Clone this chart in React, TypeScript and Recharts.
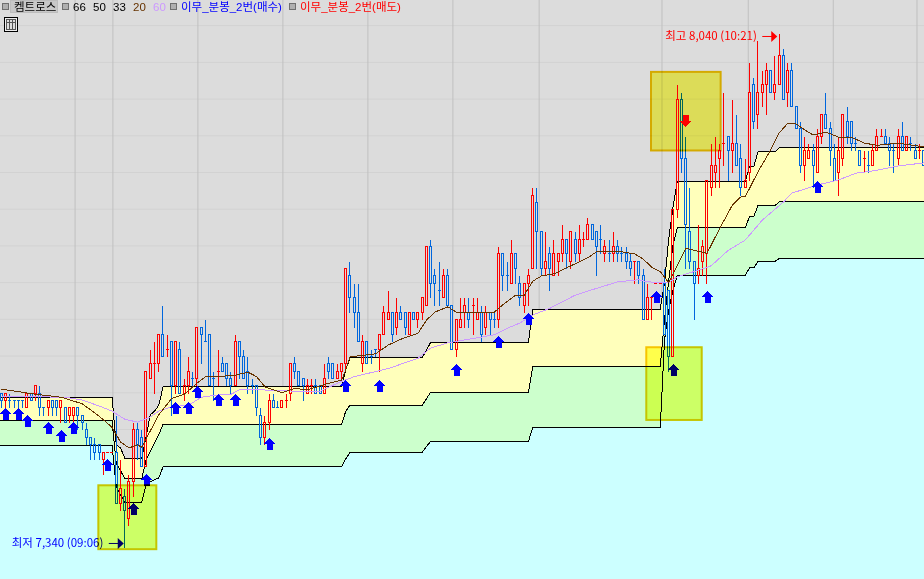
import { Area, Bar, CartesianGrid, ComposedChart, Line, ReferenceArea, ReferenceDot, Scatter, XAxis, YAxis } from "recharts";

const opens = [
  7550,7540,7540,7540,7540,7540,7530,7550,7550,7550,
  7530,7530,7540,7540,7530,7530,7520,7520,7530,7520,
  7500,7490,7480,7480,7460,7470,7470,7470,7400,7410,
  7380,7430,7500,7490,7450,7570,7590,7590,7630,7610,
  7620,7560,7610,7550,7560,7570,7570,7640,7620,7630,
  7570,7580,7590,7590,7570,7560,7620,7600,7580,7560,
  7560,7520,7490,7510,7540,7530,7530,7540,7550,7590,
  7580,7570,7550,7560,7560,7560,7550,7590,7590,7570,
  7580,7590,7710,7680,7660,7590,7620,7600,7610,7610,
  7630,7650,7660,7640,7660,7660,7630,7660,7650,7660,
  7670,7750,7710,7690,7680,7710,7670,7610,7640,7660,
  7660,7670,7650,7660,7640,7660,7650,7650,7740,7710,
  7700,7740,7700,7670,7700,7720,7810,7770,7720,7740,
  7710,7730,7740,7760,7730,7760,7740,7760,7760,7780,
  7770,7760,7740,7740,7740,7750,7740,7740,7730,7730,
  7730,7710,7650,7680,7700,7700,7700,7690,7600,7800,
  7950,7870,7770,7730,7710,7730,7740,7830,7850,7870,
  7890,7900,7880,7890,7870,7830,7850,7970,7930,7960,
  7970,7990,7960,7970,8010,7960,7990,7940,7910,7860,
  7870,7880,7850,7900,7930,7910,7870,7850,7870,7920,
  7920,7890,7880,7870,7860,7860,7880,7900,7900,7890,
  7880,7870,7900,7880,7890,7880,7880,7880,
];
const highs = [
  7550,7550,7550,7540,7540,7540,7550,7550,7560,7560,
  7530,7540,7540,7540,7540,7530,7530,7530,7530,7520,
  7510,7490,7490,7480,7470,7470,7470,7520,7460,7420,
  7440,7510,7510,7500,7580,7610,7620,7630,7670,7630,
  7620,7620,7620,7570,7600,7580,7640,7640,7650,7630,
  7580,7610,7600,7590,7580,7630,7620,7610,7600,7570,
  7560,7530,7520,7550,7550,7540,7540,7550,7590,7600,
  7580,7570,7570,7570,7570,7560,7590,7600,7590,7590,
  7590,7720,7730,7700,7700,7630,7620,7610,7610,7630,
  7670,7690,7660,7680,7670,7660,7660,7660,7660,7680,
  7750,7760,7720,7730,7720,7720,7670,7650,7680,7680,
  7680,7680,7680,7670,7670,7660,7660,7750,7740,7730,
  7760,7740,7710,7700,7720,7830,7830,7770,7770,7750,
  7760,7740,7780,7760,7770,7770,7780,7770,7790,7780,
  7770,7780,7760,7760,7770,7760,7750,7750,7740,7730,
  7730,7720,7700,7680,7700,7700,7720,7690,7800,7970,
  7960,7900,7830,7730,7780,7760,7840,7890,7900,7890,
  7960,7900,7950,7930,7890,7870,8000,7980,8030,7990,
  8000,7990,8010,8040,8020,8000,8000,7940,7920,7900,
  7890,7890,7910,7930,7960,7920,7890,7900,7930,7940,
  7920,7900,7880,7880,7880,7890,7910,7910,7910,7900,
  7890,7910,7920,7900,7900,7890,7890,7880,
];
const lows = [
  7530,7530,7530,7530,7530,7530,7530,7540,7540,7520,
  7520,7520,7520,7520,7510,7510,7510,7510,7500,7500,
  7480,7460,7460,7460,7440,7470,7470,7400,7390,7340,
  7370,7410,7460,7450,7450,7570,7550,7580,7600,7600,
  7520,7550,7550,7540,7550,7560,7560,7590,7620,7560,
  7540,7560,7580,7560,7550,7560,7570,7570,7550,7550,
  7520,7480,7480,7500,7530,7530,7530,7530,7540,7570,
  7560,7540,7550,7550,7550,7550,7550,7570,7570,7570,
  7570,7580,7660,7640,7620,7580,7590,7590,7600,7580,
  7630,7650,7620,7630,7650,7630,7630,7650,7640,7650,
  7670,7680,7670,7670,7680,7670,7610,7600,7640,7640,
  7640,7630,7650,7620,7630,7630,7640,7640,7690,7690,
  7700,7700,7670,7660,7670,7720,7720,7710,7710,7690,
  7710,7710,7730,7720,7720,7730,7730,7750,7760,7760,
  7710,7740,7730,7730,7730,7730,7730,7720,7710,7700,
  7700,7650,7650,7650,7700,7700,7630,7580,7600,7790,
  7850,7720,7720,7650,7700,7710,7700,7820,7830,7830,
  7860,7840,7850,7860,7820,7830,7840,7910,7910,7940,
  7930,7960,7950,7970,7950,7940,7940,7910,7850,7840,
  7870,7830,7850,7890,7910,7860,7840,7820,7860,7890,
  7880,7880,7860,7850,7850,7860,7880,7900,7890,7860,
  7850,7860,7880,7880,7880,7870,7870,7860,
];
const closes = [
  7540,7550,7540,7540,7540,7540,7550,7540,7560,7530,
  7530,7540,7530,7530,7540,7510,7530,7530,7520,7510,
  7490,7480,7470,7470,7470,7470,7470,7400,7420,7390,
  7430,7500,7480,7450,7580,7590,7590,7630,7600,7610,
  7560,7620,7550,7560,7580,7570,7640,7630,7620,7560,
  7570,7580,7580,7570,7560,7620,7600,7570,7560,7560,
  7530,7490,7510,7540,7530,7530,7540,7540,7590,7580,
  7560,7560,7560,7560,7550,7550,7570,7580,7570,7580,
  7590,7720,7680,7660,7620,7620,7590,7600,7610,7630,
  7660,7660,7630,7660,7650,7640,7660,7650,7660,7680,
  7750,7700,7700,7690,7710,7670,7610,7650,7650,7670,
  7650,7670,7660,7630,7660,7650,7650,7740,7710,7710,
  7740,7720,7680,7700,7710,7820,7770,7720,7730,7720,
  7740,7740,7760,7740,7770,7740,7760,7760,7780,7760,
  7750,7760,7750,7740,7750,7740,7740,7730,7720,7730,
  7710,7650,7680,7680,7700,7700,7630,7600,7800,7950,
  7870,7780,7730,7700,7720,7750,7840,7860,7860,7880,
  7890,7880,7890,7860,7830,7840,7960,7920,7960,7970,
  7990,7960,7970,8010,7950,7990,7940,7910,7860,7880,
  7880,7860,7900,7930,7910,7880,7840,7880,7930,7900,
  7890,7890,7860,7870,7860,7880,7900,7900,7890,7880,
  7880,7900,7880,7900,7890,7870,7880,7860,
];
// open == close bars that were drawn red, the other ones are blue
const redDoji = [25, 26, 36, 39, 51, 67, 73, 111, 137, 149, 153, 154, 155, 170, 203, 207, 216];

const upperIdx = [-0.5, 26, 27, 28, 29, 33, 34, 35, 36, 37, 38, 80, 81, 82, 99, 100, 101, 124, 125, 155, 156, 157, 158, 159, 175, 176, 177, 178, 182, 183, 217.5];
const upperBand = [7544, 7544, 7479, 7475, 7461, 7461, 7490, 7520, 7525, 7533, 7558, 7558, 7581, 7598, 7598, 7608, 7619, 7619, 7664, 7664, 7700, 7760, 7803, 7838, 7838, 7858, 7858, 7878, 7878, 7884, 7884];
const midIdx = [-0.5, 26, 27, 28, 29, 33, 34, 36, 37, 38, 80, 81, 82, 99, 100, 101, 124, 125, 155, 156, 157, 158, 159, 175, 176, 177, 178, 182, 183, 217.5];
const midBand = [7512, 7512, 7454, 7444, 7433, 7433, 7458, 7482, 7493, 7507, 7507, 7525, 7533, 7533, 7542, 7551, 7551, 7586, 7586, 7650, 7704, 7751, 7775, 7775, 7790, 7790, 7805, 7805, 7810, 7810];
const lowerIdx = [-0.5, 26, 27, 28, 29, 33, 34, 35, 37, 38, 80, 81, 82, 99, 100, 101, 124, 125, 155, 156, 157, 158, 159, 175, 176, 177, 178, 182, 183, 217.5];
const lowerBand = [7478, 7478, 7422, 7411, 7401, 7401, 7424, 7429, 7434, 7449, 7449, 7460, 7469, 7469, 7477, 7484, 7484, 7503, 7503, 7622, 7663, 7690, 7710, 7710, 7720, 7720, 7729, 7729, 7733, 7733];

const ma20Idx = [0, 8, 14, 19, 23, 26, 28, 30, 32, 33, 35, 37, 40, 43, 46, 48, 51, 55, 58, 60, 62, 66, 69, 72, 77, 80, 81, 82, 88, 91, 94, 98, 100, 102, 105, 107, 116, 118, 121, 123, 125, 127, 130, 134, 138, 140, 146, 149, 151, 153, 155, 157, 159, 161, 163, 166, 169, 172, 174, 175, 178, 181, 183, 185, 187, 189, 191, 194, 197, 200, 203, 206, 211, 217];
const ma20 = [7555, 7548, 7544, 7535, 7518, 7503, 7483, 7475, 7479, 7476, 7498, 7520, 7542, 7548, 7563, 7572, 7572, 7574, 7578, 7572, 7558, 7550, 7556, 7554, 7563, 7567, 7581, 7599, 7603, 7615, 7623, 7631, 7649, 7660, 7667, 7660, 7660, 7670, 7683, 7683, 7702, 7709, 7712, 7723, 7734, 7742, 7742, 7739, 7732, 7721, 7715, 7700, 7723, 7747, 7744, 7740, 7774, 7806, 7817, 7817, 7851, 7881, 7904, 7917, 7916, 7908, 7901, 7905, 7898, 7898, 7890, 7887, 7890, 7885];
const ma60Idx = [0, 15, 19, 23, 26, 29, 32, 35, 37, 40, 44, 47, 51, 54, 56, 61, 70, 75, 79, 83, 91, 98, 101, 105, 110, 116, 119, 122, 125, 129, 135, 141, 145, 150, 152, 157, 159, 164, 167, 171, 175, 179, 184, 186, 192, 197, 201, 206, 211, 217];
const ma60 = [7545, 7544, 7540, 7532, 7525, 7514, 7510, 7517, 7525, 7531, 7533, 7544, 7547, 7548, 7554, 7554, 7552, 7552, 7563, 7572, 7583, 7597, 7611, 7618, 7623, 7629, 7638, 7645, 7656, 7665, 7683, 7694, 7701, 7704, 7701, 7700, 7708, 7717, 7723, 7744, 7758, 7785, 7810, 7822, 7833, 7840, 7849, 7853, 7859, 7863];

const buyIdx = [1, 4, 6, 11, 14, 17, 25, 31, 34, 41, 44, 46, 51, 55, 63, 81, 89, 107, 117, 124, 154, 158, 166, 192];
const buyPrice = [7529, 7529, 7520, 7510, 7499, 7510, 7460, 7400, 7439, 7538, 7538, 7559, 7549, 7549, 7489, 7568, 7568, 7589, 7628, 7659, 7689, 7589, 7689, 7838];
const sellIdx = [161];
const sellPrice = [7912];

const gridPrices = [7350, 7400, 7450, 7500, 7550, 7600, 7650, 7700, 7750, 7800, 7850, 7900, 7950, 8000, 8050];
const gridIdx = [17.3, 26.2, 46.2, 66.2, 86.2, 106.2, 126.5, 146.5, 155.4, 175.7, 195.7, 215.4];

const RED = "#ff0000";
const BLUE = "#0066dd";
const Y_MIN = 7296.4;
const Y_MAX = 8084.9;

const candles = opens.map((open, i) => ({
  i,
  open,
  close: closes[i],
  high: highs[i],
  low: lows[i],
  range: [lows[i], highs[i]],
}));

const toPoints = (idx: number[], vals: number[]) => idx.map((i, k) => ({ i, v: vals[k] }));

function Candle(props: any) {
  const { x, y, width, height, payload } = props;
  const { open, close, high, low, i } = payload;
  const isDoji = open === close;
  const up = isDoji ? redDoji.includes(i) : close > open;
  const color = up ? RED : BLUE;
  const cx = Math.floor(x + width / 2) + 0.5;
  const perWon = high > low ? height / (high - low) : 0;
  const yOf = (v: number) => Math.round(y + (high - v) * perWon) + 0.5;
  const top = yOf(Math.max(open, close));
  const bottom = yOf(Math.min(open, close));
  if (isDoji) {
    return (
      <g shapeRendering="crispEdges" stroke={color} strokeWidth={1}>
        <line x1={cx} x2={cx} y1={yOf(high)} y2={yOf(low)} />
        <line x1={cx - 1.5} x2={cx + 1.5} y1={top} y2={top} />
      </g>
    );
  }
  return (
    <g shapeRendering="crispEdges" stroke={color} strokeWidth={1}>
      <line x1={cx} x2={cx} y1={yOf(high)} y2={top} />
      <line x1={cx} x2={cx} y1={bottom} y2={yOf(low)} />
      <rect x={cx - 1} y={top} width={2} height={bottom - top} fill="none" />
    </g>
  );
}

function BuyArrow(props: any) {
  const cx = Math.floor(props.cx) + 0.5;
  const cy = Math.round(props.cy);
  return (
    <polygon
      fill="#0000ff"
      shapeRendering="crispEdges"
      points={`${cx},${cy} ${cx + 5.5},${cy + 6} ${cx + 3},${cy + 6} ${cx + 3},${cy + 12} ${cx - 3},${cy + 12} ${cx - 3},${cy + 6} ${cx - 5.5},${cy + 6}`}
    />
  );
}

function SellArrow(props: any) {
  const cx = Math.floor(props.cx) + 0.5;
  const cy = Math.round(props.cy);
  return (
    <polygon
      fill="#ff0000"
      shapeRendering="crispEdges"
      points={`${cx},${cy} ${cx + 5.5},${cy - 6} ${cx + 3},${cy - 6} ${cx + 3},${cy - 12} ${cx - 3},${cy - 12} ${cx - 3},${cy - 6} ${cx - 5.5},${cy - 6}`}
    />
  );
}

function Box(props: any) {
  const { x, y, width, height } = props;
  return (
    <rect
      x={x}
      y={y}
      width={width}
      height={height}
      fill="#ffff66"
      stroke="#f6c500"
      strokeWidth={2}
      style={{ mixBlendMode: "multiply" }}
    />
  );
}

function HighNote(props: any) {
  const { cx, cy } = props;
  return (
    <g>
      <text x={cx - 114} y={cy + 7} fill="#ff0000" fontSize={11.5} fontFamily="'Noto Sans CJK KR'">
        최고 8,040 (10:21)
      </text>
      <line x1={cx - 17} x2={cx - 5} y1={cy + 3.5} y2={cy + 3.5} stroke="#ff0000" />
      <polygon fill="#ff0000" points={`${cx - 8},${cy - 2} ${cx - 2},${cy + 3.5} ${cx - 8},${cy + 9}`} />
    </g>
  );
}

function LowNote(props: any) {
  const { cx, cy } = props;
  return (
    <g>
      <text x={cx - 113} y={cy} fill="#0000ff" fontSize={11.5} fontFamily="'Noto Sans CJK KR'">
        최저 7,340 (09:06)
      </text>
      <line x1={cx - 16} x2={cx - 5} y1={cy - 3.5} y2={cy - 3.5} stroke="#0000ff" />
      <polygon fill="#0000ff" points={`${cx - 7},${cy - 9} ${cx - 1},${cy - 3.5} ${cx - 7},${cy + 2}`} />
    </g>
  );
}

const legendSquares = [2, 62, 170, 289];
const legendItems = [
  { text: "켐트로스", x: 14, color: "#000" },
  { text: "66", x: 73, color: "#000" },
  { text: "50", x: 93, color: "#000" },
  { text: "33", x: 113, color: "#000" },
  { text: "20", x: 133, color: "#663300" },
  { text: "60", x: 153, color: "#cc99ff" },
  { text: "이무_분봉_2번(매수)", x: 181, color: "#0000ff" },
  { text: "이무_분봉_2번(매도)", x: 300, color: "#ff0000" },
];

function Header() {
  return (
    <>
      <div style={{ position: "absolute", left: 10, top: 0, width: 48, height: 13, background: "#c8c8c8", border: "1px solid #bdbdbd", boxSizing: "border-box" }} />
      {legendSquares.map((x) => (
        <div key={x} style={{ position: "absolute", left: x, top: 3, width: 5, height: 5, background: "#b0b0b0", border: "1px solid #707070" }} />
      ))}
      {legendItems.map((d) => (
        <span
          key={d.x}
          style={{ position: "absolute", left: d.x, top: 0, fontSize: 11.5, lineHeight: "14px", color: d.color, fontFamily: "'Liberation Sans','Noto Sans CJK KR'", whiteSpace: "nowrap" }}
        >
          {d.text}
        </span>
      ))}
      <svg width={16} height={16} style={{ position: "absolute", left: 4, top: 17 }} shapeRendering="crispEdges">
        <rect x={0.5} y={0.5} width={13} height={14} fill="#eeeeee" stroke="#000" />
        <rect x={2.5} y={2.5} width={9} height={10} fill="#dddddd" stroke="#555" />
        <path d="M2 5.5H12M5.5 3V12M8.5 3V12" stroke="#555" />
      </svg>
    </>
  );
}

export default function App() {
  return (
    <div style={{ position: "absolute", left: 0, top: 0, width: 924, height: 579, overflow: "hidden", background: "#dcdcdc" }}>
      <style>{`.recharts-area-curve,.recharts-line-curve,.recharts-area-area{shape-rendering:crispEdges}`}</style>
      <ComposedChart width={924} height={579} data={candles} margin={{ top: 0, right: -1.9, bottom: 0, left: -0.6 }}>
        <CartesianGrid fill="#dcdcdc" vertical={false} horizontalValues={gridPrices} stroke="#d2d2d2" />
        <CartesianGrid horizontal={false} verticalValues={gridIdx} stroke="#c0c0c0" />
        <XAxis type="number" dataKey="i" domain={[-0.5, 217.5]} hide allowDataOverflow />
        <YAxis type="number" domain={[Y_MIN, Y_MAX]} hide allowDataOverflow />
        <Area data={toPoints(upperIdx, upperBand)} dataKey="v" type="linear" baseValue={Y_MIN} fill="#ffffbb" fillOpacity={1} stroke="#000" strokeWidth={1} dot={false} activeDot={false} isAnimationActive={false} />
        <Area data={toPoints(midIdx, midBand)} dataKey="v" type="linear" baseValue={Y_MIN} fill="#ccffcc" fillOpacity={1} stroke="#000" strokeWidth={1} dot={false} activeDot={false} isAnimationActive={false} />
        <Area data={toPoints(lowerIdx, lowerBand)} dataKey="v" type="linear" baseValue={Y_MIN} fill="#ccffff" fillOpacity={1} stroke="#000" strokeWidth={1} dot={false} activeDot={false} isAnimationActive={false} />
        <Bar dataKey="range" barSize={4} shape={<Candle />} isAnimationActive={false} />
        <Line data={toPoints(ma60Idx, ma60)} dataKey="v" type="linear" stroke="#cc99ff" strokeWidth={1} dot={false} activeDot={false} isAnimationActive={false} />
        <Line data={toPoints(ma20Idx, ma20)} dataKey="v" type="linear" stroke="#663300" strokeWidth={1} dot={false} activeDot={false} isAnimationActive={false} />
        <Scatter data={toPoints(buyIdx, buyPrice)} dataKey="v" shape={<BuyArrow />} isAnimationActive={false} />
        <Scatter data={toPoints(sellIdx, sellPrice)} dataKey="v" shape={<SellArrow />} isAnimationActive={false} />
        <ReferenceDot x={183} y={8040} shape={<HighNote />} />
        <ReferenceDot x={29} y={7340} shape={<LowNote />} />
        <ReferenceArea x1={22.78} x2={36.42} y1={7337} y2={7424} shape={<Box />} zIndex={900} />
        <ReferenceArea x1={151.71} x2={164.75} y1={7513} y2={7612} shape={<Box />} zIndex={900} />
        <ReferenceArea x1={152.82} x2={169.2} y1={7880} y2={7987} shape={<Box />} zIndex={900} />
      </ComposedChart>
      <Header />
    </div>
  );
}
